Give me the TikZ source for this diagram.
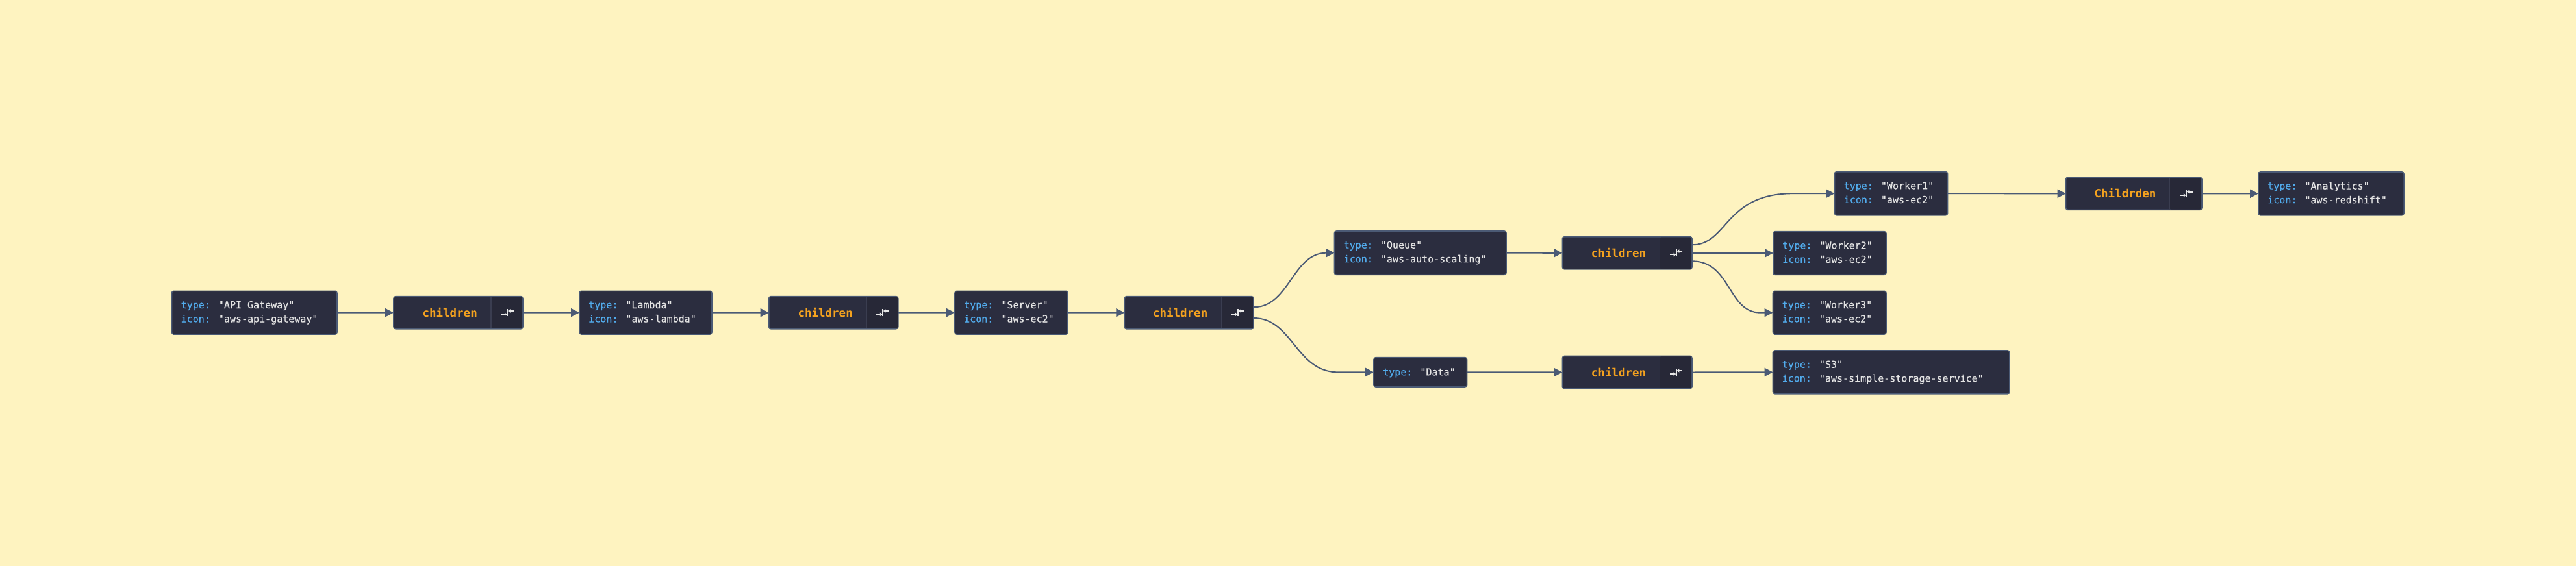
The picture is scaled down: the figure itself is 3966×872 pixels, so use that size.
\documentclass[tikz,border=0pt]{standalone}
\usepackage{fontspec}
\newfontfamily\mono[FakeBold=0.35]{DejaVu Sans Mono}
\newfontfamily\monob{DejaVu Sans Mono Bold}
\usetikzlibrary{arrows.meta,fit,calc}
\definecolor{bgc}{HTML}{FEF3C0}
\definecolor{boxc}{HTML}{2B2D3F}
\definecolor{iconbg}{HTML}{272837}
\definecolor{bordc}{HTML}{4B5A75}
\definecolor{edgec}{HTML}{4B5A75}
\definecolor{keyc}{HTML}{52ABEC}
\definecolor{valc}{HTML}{E4E4E4}
\definecolor{orc}{HTML}{F4A21F}
\definecolor{divc}{HTML}{3A3D50}
\definecolor{iconc}{HTML}{E8E8E8}
\tikzset{
  box/.style={draw=bordc, fill=boxc, line width=1.6pt, rounded corners=3pt, inner sep=0pt, outer sep=0pt},
  txt/.style={anchor=base west, inner sep=0pt, font=\mono\fontsize{15}{18}\selectfont},
  chtxt/.style={anchor=base east, inner sep=0pt, text=orc, font=\monob\fontsize{17.5}{20}\selectfont},
  edge/.style={draw=edgec, line width=2pt, -{Triangle[length=13pt,width=13pt]}},
  divline/.style={draw=divc, line width=1.2pt},
  iconarrow/.style={draw=iconc, line width=1.8pt, -{Triangle[length=3.5pt,width=5.5pt]}},
  iconbar/.style={draw=iconc, line width=1.8pt},
}
\newcommand\kv[2]{\textcolor{keyc}{#1:} \textcolor{valc}{"#2"}}
\newcommand\ibox[7]{%
  \node[box, fit={(#2,#3) (#4,#5)}] (#1) {};
  \node[txt] (#1-a) at ($(#1.north west)+(14,26.7)$) {#6};
  \node[txt] (#1-b) at ($(#1.north west)+(14,48.2)$) {#7};
}
\newcommand\chbox[6]{%
  \node[box, fit={(#2,{#5-25}) (#3,{#5+25})}] (#1) {};
  \fill[iconbg, rounded corners=2.2pt] (#4,{#5-24.2}) rectangle ({#3-0.8},{#5+24.2});
  \draw[divline] (#4,{#5-24.2}) -- (#4,{#5+24.2});
  \node[chtxt] (#1-t) at ({#4-21},{#5+6.6}) {#6};
  \coordinate (#1-ic) at ({(#4+#3)/2},#5);
  \draw[iconbar] ($(#1-ic)+(0.8,-5.7)$) -- ($(#1-ic)+(0.8,5.6)$);
  \draw[iconarrow] ($(#1-ic)+(-9,2.6)$) -- ($(#1-ic)+(0,2.6)$);
  \draw[iconarrow] ($(#1-ic)+(10.2,-2.7)$) -- ($(#1-ic)+(1.6,-2.7)$);
}
\begin{document}
\begin{tikzpicture}[x=1pt, y=-1pt]
\fill[bgc] (0,0) rectangle (3966,872);
\useasboundingbox (0,0) rectangle (3966,872);

\ibox{api}{264.5}{448.3}{519}{515}{\kv{type}{API Gateway}}{\kv{icon}{aws-api-gateway}}
\chbox{c1}{606}{805}{756}{481.7}{children}
\ibox{lambda}{892}{448.3}{1096}{515}{\kv{type}{Lambda}}{\kv{icon}{aws-lambda}}
\chbox{c2}{1183.7}{1382.7}{1334}{481.7}{children}
\ibox{server}{1470}{448.3}{1644}{515}{\kv{type}{Server}}{\kv{icon}{aws-ec2}}
\chbox{c3}{1731.3}{1930}{1880.5}{481.7}{children}
\ibox{queue}{2054.5}{356}{2319}{423.3}{\kv{type}{Queue}}{\kv{icon}{aws-auto-scaling}}
\node[box, fit={(2115,550.7) (2258.5,596)}] (data) {};
\node[txt] (data-a) at ($(data.west)+(14,5)$) {\kv{type}{Data}};
\chbox{c4}{2405.4}{2605}{2555.4}{389.8}{children}
\chbox{c5}{2405.4}{2605}{2555.4}{573.5}{children}
\ibox{w1}{2824.5}{264.7}{2998.5}{331.7}{\kv{type}{Worker1}}{\kv{icon}{aws-ec2}}
\ibox{w2}{2730}{356.7}{2904}{423.3}{\kv{type}{Worker2}}{\kv{icon}{aws-ec2}}
\ibox{w3}{2729.5}{448.3}{2904}{515}{\kv{type}{Worker3}}{\kv{icon}{aws-ec2}}
\ibox{s3}{2729.5}{540}{3094}{606.7}{\kv{type}{S3}}{\kv{icon}{aws-simple-storage-service}}
\chbox{c6}{3180.6}{3390}{3340.6}{298.3}{Childrden}
\ibox{an}{3477}{265}{3701}{331.7}{\kv{type}{Analytics}}{\kv{icon}{aws-redshift}}

\draw[edge] (api.east) -- (c1.west);
\draw[edge] (c1.east) -- (lambda.west);
\draw[edge] (lambda.east) -- (c2.west);
\draw[edge] (c2.east) -- (server.west);
\draw[edge] (server.east) -- (c3.west);
\draw[edge] ($(c3.east)+(0,-8.4)$) .. controls +(55,0) and +(-64.5,0) .. (queue.west);
\coordinate (dj) at ($(data.west)+(-55,0)$);
\draw[edge] ($(c3.east)+(0,8.3)$) .. controls +(60,0) and +(-65,0) .. (dj) -- (data.west);
\draw[edge] (queue.east) -- (c4.west);
\draw[edge] (data.east) -- (c5.west);
\coordinate (w1j) at ($(w1.west)+(-64.5,0)$);
\draw[edge] ($(c4.east)+(0,-12.5)$) .. controls +(55,0) and +(-105,0) .. (w1j) -- (w1.west);
\draw[edge] (c4.east) -- (w2.west);
\coordinate (w3j) at ($(w3.west)+(-19.5,0)$);
\draw[edge] ($(c4.east)+(0,12.5)$) .. controls +(60,0) and +(-50,0) .. (w3j) -- (w3.west);
\draw[edge] (c5.east) -- (s3.west);
\draw[edge] (w1.east) -- (c6.west);
\draw[edge] (c6.east) -- (an.west);
\end{tikzpicture}
\end{document}
